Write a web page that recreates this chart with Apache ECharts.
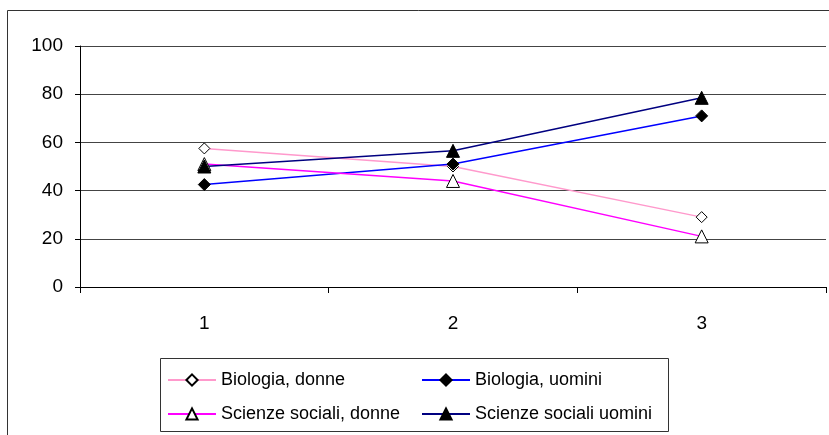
<!DOCTYPE html>
<html><head><meta charset="utf-8">
<script src="https://cdn.jsdelivr.net/npm/echarts@6/dist/echarts.min.js"></script>
<style>html,body{margin:0;padding:0;background:#fff}#c{width:829px;height:435px}</style>
</head><body><div id="c"></div>
<script>
var categories = ['1', '2', '3'];
var yTicks = [0, 20, 40, 60, 80, 100];
var bioDonne = [57.5, 50, 29];
var bioUomini = [42.5, 51, 71];
var socDonne = [51, 44, 21];
var socUomini = [50, 56.5, 78.5];
var names = ['Biologia, donne', 'Biologia, uomini', 'Scienze sociali, donne', 'Scienze sociali uomini'];

var chart = echarts.init(document.getElementById('c'), null, {renderer: 'canvas'});
var font = 'Arial, "Liberation Sans", sans-serif';
function s(name, data, color, symbol, size, fill) {
  return {
    name: name, type: 'line', data: data,
    symbol: symbol, symbolSize: size,
    lineStyle: {color: color, width: 1.5},
    itemStyle: {color: fill, borderColor: '#000', borderWidth: 1},
    emphasis: {disabled: true}, animation: false
  };
}
chart.setOption({
  animation: false,
  grid: {left: 80, right: 3, top: 46, bottom: 148},
  xAxis: {
    type: 'category', data: categories, boundaryGap: true,
    axisLine: {lineStyle: {color: '#000', width: 1}},
    axisTick: {show: true, length: 6, alignWithLabel: false, lineStyle: {color: '#000'}},
    axisLabel: {color: '#000', fontSize: 19, fontFamily: font, margin: 27}
  },
  yAxis: {
    type: 'value', min: yTicks[0], max: yTicks[yTicks.length - 1], interval: 20,
    axisLine: {show: true, lineStyle: {color: '#000', width: 1}},
    axisTick: {show: true, length: 5, lineStyle: {color: '#000'}},
    axisLabel: {color: '#000', fontSize: 19, fontFamily: font, margin: 17},
    splitLine: {show: true, lineStyle: {color: '#444', width: 1}}
  },
  legend: [{
    data: [names[0], names[2]], orient: 'vertical', left: 162, top: 366,
    itemWidth: 48, itemHeight: 14, itemGap: 16,
    textStyle: {color: '#000', fontSize: 18, fontFamily: font}, selectedMode: false
  }, {
    data: [names[1], names[3]], orient: 'vertical', left: 416, top: 366,
    itemWidth: 48, itemHeight: 14, itemGap: 16,
    textStyle: {color: '#000', fontSize: 18, fontFamily: font}, selectedMode: false
  }],
  graphic: [
    {type: 'rect', shape: {x: 7.5, y: 10.5, width: 900, height: 500}, style: {fill: 'none', stroke: '#333', lineWidth: 1}, silent: true},
    {type: 'rect', shape: {x: 160.5, y: 358.5, width: 508, height: 73}, style: {fill: 'none', stroke: '#333', lineWidth: 1}, silent: true}
  ],
  series: [
    s(names[0], bioDonne, '#FF99CC', 'diamond', 11, '#fff'),
    s(names[1], bioUomini, '#0000FF', 'diamond', 12, '#000'),
    s(names[2], socDonne, '#FF00FF', 'triangle', [13, 13], '#fff'),
    s(names[3], socUomini, '#000080', 'triangle', [13, 13], '#000')
  ]
});
</script></body></html>
